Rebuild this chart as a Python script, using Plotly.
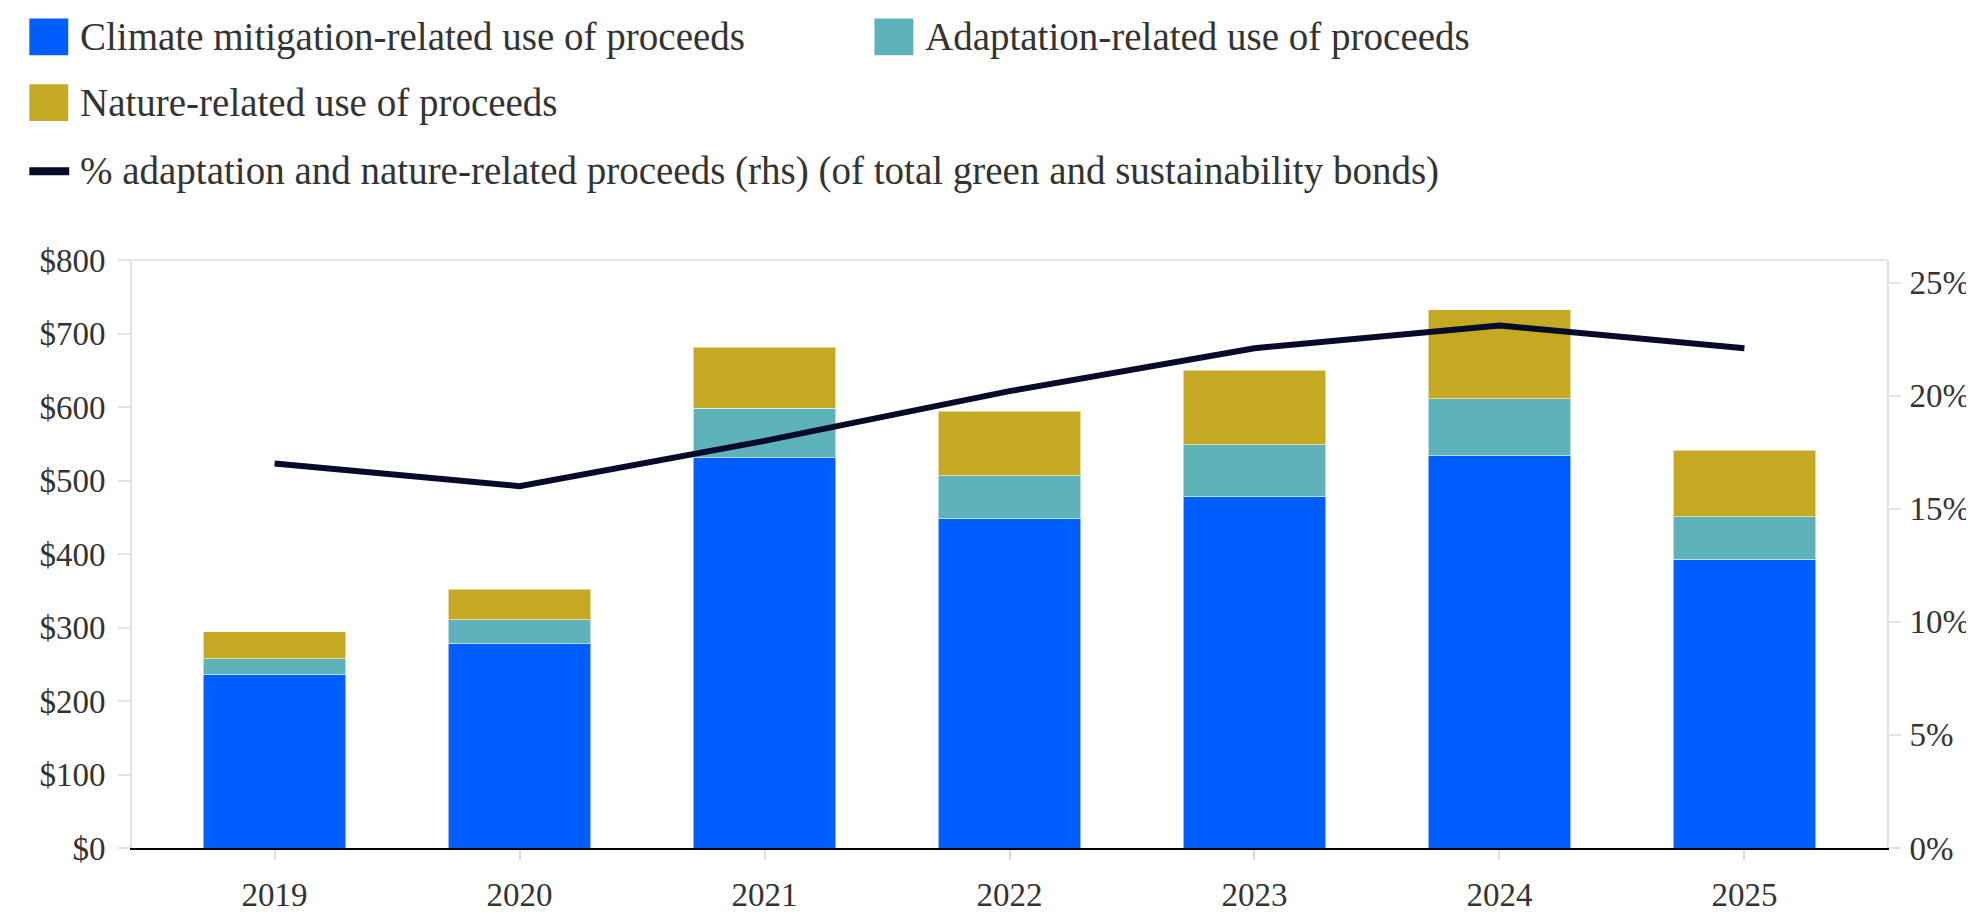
import plotly.graph_objects as go

years = ["2019", "2020", "2021", "2022", "2023", "2024", "2025"]
mitigation = [236, 278, 531, 448, 478, 534, 393]
adaptation = [21.5, 32.5, 67, 58.5, 70.5, 77, 58]
nature = [36.5, 41.5, 83, 88, 101.5, 121.5, 90.5]
pct_adapt_nature = [17.0, 16.0, 18.0, 20.2, 22.1, 23.1, 22.1]

left_ticks = [0, 100, 200, 300, 400, 500, 600, 700, 800]
right_ticks = [0, 5, 10, 15, 20, 25]

names = [
    "Climate mitigation-related use of proceeds",
    "Adaptation-related use of proceeds",
    "Nature-related use of proceeds",
    "% adaptation and nature-related proceeds (rhs) (of total green and sustainability bonds)",
]
C_BLUE = "#005EFF"
C_TEAL = "#5EB3BA"
C_GOLD = "#C6A923"
C_LINE = "#070A2B"
TXT = "#333333"
FONT = "Liberation Serif"

W, H = 1974, 917
L, R, T, B = 124, 89, 252, 56
PW, PH = W - L - R, H - T - B


def px_x(px):
    return (px - L) / PW


def px_y(py):
    return (H - B - py) / PH


fig = go.Figure()
edge = dict(width=1, color="rgba(255,255,255,0.55)")
fig.add_bar(x=years, y=mitigation, name=names[0], marker=dict(color=C_BLUE, line=edge), showlegend=False)
fig.add_bar(x=years, y=adaptation, name=names[1], marker=dict(color=C_TEAL, line=edge), showlegend=False)
fig.add_bar(x=years, y=nature, name=names[2], marker=dict(color=C_GOLD, line=edge), showlegend=False)
fig.add_scatter(x=years, y=pct_adapt_nature, name=names[3], yaxis="y2", mode="lines",
                line=dict(color=C_LINE, width=6), showlegend=False)

# custom legend (large symbols as in the reference)
legend_items = [
    (21, 21, "box", C_BLUE, names[0]),
    (869, 21, "box", C_TEAL, names[1]),
    (21, 89, "box", C_GOLD, names[2]),
    (21, 160, "line", C_LINE, names[3]),
]
shapes = []
annotations = []
for sx, cy, kind, col, label in legend_items:
    if kind == "box":
        shapes.append(dict(type="rect", xref="paper", yref="paper",
                           x0=px_x(sx), x1=px_x(sx + 39), y0=px_y(cy - 19), y1=px_y(cy + 19),
                           fillcolor=col, line=dict(width=0)))
    else:
        shapes.append(dict(type="line", xref="paper", yref="paper",
                           x0=px_x(sx), x1=px_x(sx + 40), y0=px_y(cy), y1=px_y(cy),
                           line=dict(color=col, width=8)))
    annotations.append(dict(xref="paper", yref="paper", x=px_x(sx + 49), y=px_y(cy),
                            xanchor="left", yanchor="middle", showarrow=False, text=label,
                            font=dict(family=FONT, size=39, color=TXT)))

# light top border of the plot area
shapes.append(dict(type="line", xref="paper", yref="paper", x0=0, x1=1, y0=1, y1=1,
                   line=dict(color="#e3e3e3", width=2), layer="below"))

fig.update_layout(
    width=W, height=H, autosize=False,
    margin=dict(l=L, r=R, t=T, b=B, pad=0),
    barmode="stack", bargap=0.418,
    plot_bgcolor="white", paper_bgcolor="white",
    font=dict(family=FONT, size=33, color=TXT),
    showlegend=False,
    shapes=shapes, annotations=annotations,
    xaxis=dict(type="category", range=[-0.582, 6.582], showline=True, linecolor="#000000",
               linewidth=2, ticks="outside", ticklen=10, tickcolor="#dcdcdc", tickwidth=2,
               ticklabelstandoff=6,
               showgrid=False, zeroline=False, tickfont=dict(family=FONT, size=33, color=TXT)),
    yaxis=dict(range=[0, 800], tickvals=left_ticks, ticktext=[f"${v}" for v in left_ticks],
               showline=True, linecolor="#e3e3e3", linewidth=2, ticks="outside", ticklen=12,
               tickcolor="#e3e3e3", tickwidth=2, showgrid=False, zeroline=False,
               ticklabelstandoff=6,
               tickfont=dict(family=FONT, size=33, color=TXT)),
    yaxis2=dict(range=[0, 26], tickvals=right_ticks, ticktext=[f"{v}%" for v in right_ticks],
                overlaying="y", side="right", showline=True, linecolor="#e3e3e3", linewidth=2,
                ticks="outside", ticklen=12, tickcolor="#e3e3e3", tickwidth=2,
                ticklabelstandoff=2,
                showgrid=False, zeroline=False, tickfont=dict(family=FONT, size=33, color=TXT)),
)

fig.write_html("out.html", config={"displayModeBar": False})
